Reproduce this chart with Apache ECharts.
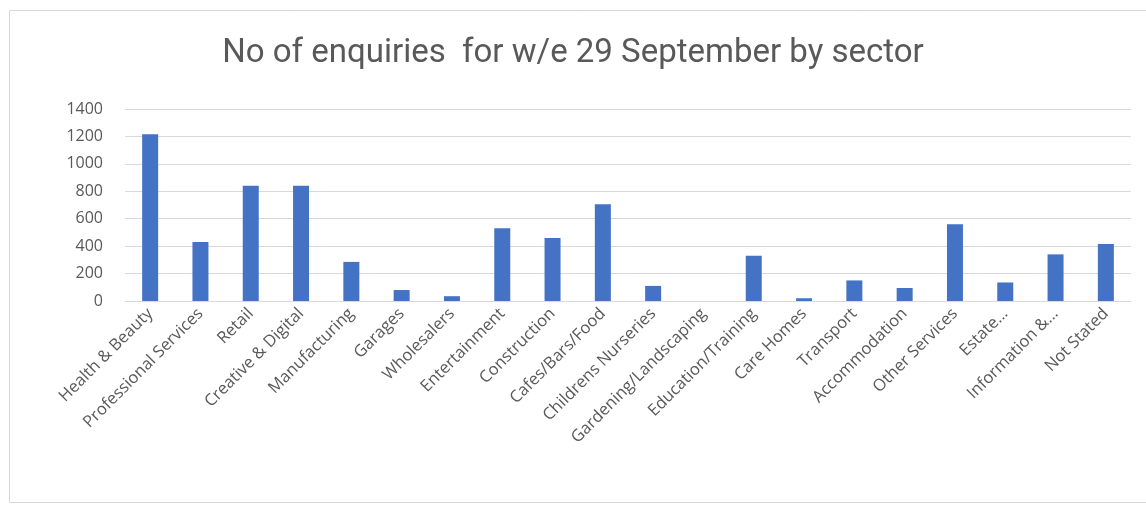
<!DOCTYPE html>
<html>
<head>
<meta charset="utf-8">
<script src="https://cdn.jsdelivr.net/npm/echarts@6/dist/echarts.min.js"></script>
<style>
  html, body { margin: 0; padding: 0; background: #fff; }
  #main { width: 1146px; height: 512px; }
</style>
</head>
<body>
<div id="main"></div>
<script>
// sectors and weekly enquiry counts
var sectors = [
  "Health & Beauty", "Professional Services", "Retail", "Creative & Digital",
  "Manufacturing", "Garages", "Wholesalers", "Entertainment", "Construction",
  "Cafes/Bars/Food", "Childrens Nurseries", "Gardening/Landscaping",
  "Education/Training", "Care Homes", "Transport", "Accommodation",
  "Other Services", "Estate…", "Information &…", "Not Stated"
];
var enquiries = [1215, 430, 840, 840, 285, 80, 35, 530, 460, 705,
                 110, 0, 330, 20, 150, 95, 560, 135, 340, 415];
var yTicks = [0, 200, 400, 600, 800, 1000, 1200, 1400];

var chart = echarts.init(document.getElementById("main"));
var option = {
  animation: false,
  textStyle: { fontFamily: "Open Sans" },
  graphic: [{
    type: "rect",
    shape: { x: 9.5, y: 10.5, width: 1150, height: 492 },
    style: { fill: "none", stroke: "#d9d9d9", lineWidth: 1 },
    silent: true
  }],
  title: {
    text: "No of enquiries  for w/e 29 September by sector",
    left: "center",
    top: 32,
    textStyle: {
      fontFamily: "Roboto",
      fontSize: 33,
      fontWeight: "normal",
      color: "#595959"
    }
  },
  grid: { left: 125, right: 15, top: 109, bottom: 211 },
  xAxis: {
    type: "category",
    data: sectors,
    axisLine: { lineStyle: { color: "#d9d9d9", width: 1 } },
    axisTick: { show: false },
    axisLabel: {
      interval: 0,
      rotate: 45,
      color: "#595959",
      fontSize: 16.5,
      margin: 10
    }
  },
  yAxis: {
    type: "value",
    min: yTicks[0],
    max: yTicks[yTicks.length - 1],
    interval: 200,
    axisLine: { show: false },
    axisTick: { show: false },
    splitLine: { lineStyle: { color: "#d9d9d9", width: 1 } },
    axisLabel: {
      color: "#595959",
      fontSize: 16,
      margin: 22,
      formatter: function (v) { return String(v); }
    }
  },
  series: [{
    type: "bar",
    data: enquiries,
    barWidth: 16,
    itemStyle: { color: "#4472c4" }
  }]
};
chart.setOption(option);
</script>
</body>
</html>
